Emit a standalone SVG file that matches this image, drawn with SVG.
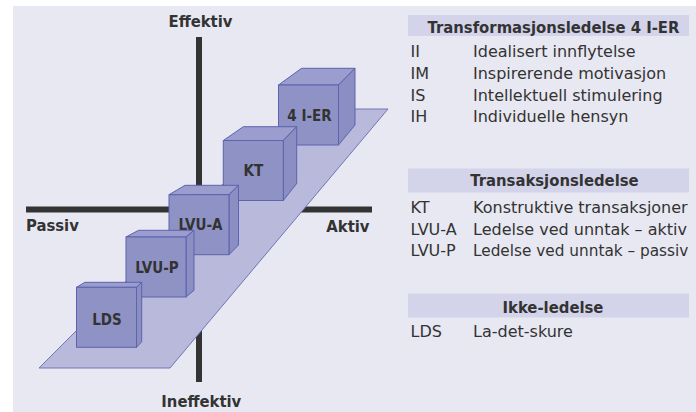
<svg xmlns="http://www.w3.org/2000/svg" width="696" height="412" viewBox="0 0 696 412">
<style>
.bg{fill:#e8e8f2}
.axis{stroke:#333;stroke-width:6;fill:none}
.plane{fill:#b9badb;stroke:#7075b8;stroke-width:1}
.front{fill:#8f92c5;stroke:#5d63ad;stroke-width:1}
.top{fill:#9a9dce;stroke:#5d63ad;stroke-width:1;stroke-linejoin:round}
.side{fill:#8a8ec2;stroke:#5d63ad;stroke-width:1;stroke-linejoin:round}
.lbl{font-family:"DejaVu Sans Condensed","DejaVu Sans",sans-serif;font-weight:bold;font-size:16.5px;fill:#333}
.cl{font-family:"DejaVu Sans Condensed","DejaVu Sans",sans-serif;font-weight:bold;font-size:15px;fill:#333;text-anchor:middle}
.bar{fill:#d3d3ea}
.h{font-family:"DejaVu Sans Condensed","DejaVu Sans",sans-serif;font-weight:bold;font-size:16.5px;fill:#333;text-anchor:middle}
.t{font-family:"DejaVu Sans",sans-serif;font-size:16px;fill:#333}
</style>
<rect class="bg" x="13" y="6" width="683" height="406"/>
<g id="axes">
<line class="axis" x1="199" y1="37" x2="199" y2="382"/>
<line class="axis" x1="26" y1="209.5" x2="372" y2="209.5"/>
</g>
<g id="axis-labels">
<text class="lbl" x="200.5" y="27.3" text-anchor="middle">Effektiv</text>
<text class="lbl" x="201.3" y="406.5" text-anchor="middle">Ineffektiv</text>
<text class="lbl" x="26" y="230.7">Passiv</text>
<text class="lbl" x="369.5" y="231.5" text-anchor="end">Aktiv</text>
</g>
<g id="plane">
<polygon class="plane" points="39,368 170,368 388,109 298,109"/>
</g>
<g id="cube-4ier">
<polygon class="top" points="278.5,85 338.5,85 355,68.3 301.5,68.3"/>
<polygon class="side" points="338.5,85 355,68.3 355,125 338.5,145"/>
<rect class="front" x="278.5" y="85" width="60" height="60"/>
<text class="cl" x="309.5" y="120.7">4 I-ER</text>
</g>
<g id="cube-kt">
<polygon class="top" points="223.3,140.5 283.3,140.5 296.7,126.7 243.3,126.7"/>
<polygon class="side" points="283.3,140.5 296.7,126.7 296.7,183.5 283.3,200.5"/>
<rect class="front" x="223.3" y="140.5" width="60" height="60"/>
<text class="cl" x="253.3" y="175.5">KT</text>
</g>
<g id="cube-lvua">
<polygon class="top" points="169,194.7 229,194.7 238.5,185.3 185,185.3"/>
<polygon class="side" points="229,194.7 238.5,185.3 238.5,245 229,254.7"/>
<rect class="front" x="169" y="194.7" width="60" height="60"/>
<text class="cl" x="200.5" y="229.5">LVU-A</text>
</g>
<g id="cube-lvup">
<polygon class="top" points="126,237 186,237 194,230.3 138.5,230.3"/>
<polygon class="side" points="186,237 194,230.3 194,290.3 186,297"/>
<rect class="front" x="126" y="237" width="60" height="60"/>
<text class="cl" x="157" y="272.5">LVU-P</text>
</g>
<g id="cube-lds">
<polygon class="top" points="76.5,287.3 136.5,287.3 141.7,282.3 85,282.3"/>
<polygon class="side" points="136.5,287.3 141.7,282.3 141.7,341.7 136.5,347.3"/>
<rect class="front" x="76.5" y="287.3" width="60" height="60"/>
<text class="cl" x="107" y="325">LDS</text>
</g>
<g id="legend-transformasjon">
<rect class="bar" x="408" y="15" width="281" height="21"/>
<text class="h" x="553.5" y="32.5">Transformasjonsledelse 4 I-ER</text>
<text class="t" x="410.5" y="57.3">II</text><text class="t" x="473" y="57.3">Idealisert innflytelse</text>
<text class="t" x="410.5" y="79">IM</text><text class="t" x="473" y="79">Inspirerende motivasjon</text>
<text class="t" x="410.5" y="100.7">IS</text><text class="t" x="473" y="100.7">Intellektuell stimulering</text>
<text class="t" x="410.5" y="122.3">IH</text><text class="t" x="473" y="122.3">Individuelle hensyn</text>
</g>
<g id="legend-transaksjon">
<rect class="bar" x="408" y="168.5" width="281" height="24"/>
<text class="h" x="554.5" y="185.5">Transaksjonsledelse</text>
<text class="t" x="410.5" y="213.3">KT</text><text class="t" x="473" y="213.3">Konstruktive transaksjoner</text>
<text class="t" x="410.5" y="234.5">LVU-A</text><text class="t" x="473" y="234.5">Ledelse ved unntak – aktiv</text>
<text class="t" x="410.5" y="256">LVU-P</text><text class="t" x="473" y="256" style="font-size:15.3px">Ledelse ved unntak – passiv</text>
</g>
<g id="legend-ikke">
<rect class="bar" x="408" y="293.5" width="281" height="24"/>
<text class="h" x="553" y="313.3">Ikke-ledelse</text>
<text class="t" x="410.5" y="336.7">LDS</text><text class="t" x="473" y="336.7">La-det-skure</text>
</g>
</svg>
